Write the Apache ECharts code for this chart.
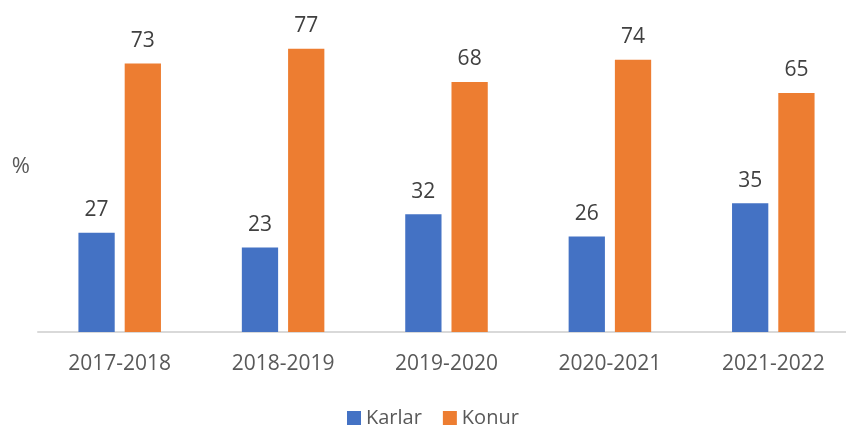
<!DOCTYPE html>
<html>
<head>
<meta charset="utf-8">
<script src="https://cdn.jsdelivr.net/npm/echarts@6/dist/echarts.min.js"></script>
<style>
  html, body { margin: 0; padding: 0; background: #ffffff; overflow: hidden; }
  /* plot area runs a little past the right edge of the window */
  #chart { width: 855px; height: 426px; }
</style>
</head>
<body>
<div id="chart"></div>
<script>
// School years and share (%) of women and men
const years = ['2017-2018', '2018-2019', '2019-2020', '2020-2021', '2021-2022'];
const karlar = [27, 23, 32, 26, 35];
const konur = [73, 77, 68, 74, 65];
const seriesNames = ['Karlar', 'Konur'];
const unitLabel = '%';

const FONT = '"Open Sans", "Noto Sans", sans-serif';

const chart = echarts.init(document.getElementById('chart'), null, { renderer: 'canvas' });

const valueLabel = {
  show: true,
  position: 'top',
  distance: 12,
  color: '#404040',
  fontFamily: FONT,
  fontSize: 21
};

chart.setOption({
  animation: false,
  backgroundColor: '#ffffff',
  grid: { left: 38, top: 1, right: 0, bottom: 94, containLabel: false },
  legend: {
    data: seriesNames,
    left: 342,
    top: 403,
    icon: 'rect',
    itemWidth: 14,
    itemHeight: 14,
    itemGap: 21,
    textStyle: { color: '#595959', fontFamily: FONT, fontSize: 20 }
  },
  xAxis: {
    type: 'category',
    data: years,
    axisLine: { show: true, lineStyle: { color: '#d9d9d9', width: 2 } },
    axisTick: { show: false },
    axisLabel: { color: '#595959', fontFamily: FONT, fontSize: 21, margin: 22 }
  },
  yAxis: {
    type: 'value',
    min: 0,
    max: 90,
    name: unitLabel,
    nameLocation: 'middle',
    nameRotate: 0,
    nameGap: 8,
    nameTextStyle: { color: '#595959', fontFamily: FONT, fontSize: 22 },
    axisLine: { show: false },
    axisTick: { show: false },
    axisLabel: { show: false },
    splitLine: { show: false }
  },
  series: [
    {
      name: seriesNames[0],
      type: 'bar',
      data: karlar,
      barWidth: '22.2%',
      barGap: '27.5%',
      itemStyle: { color: '#4472C4' },
      label: valueLabel
    },
    {
      name: seriesNames[1],
      type: 'bar',
      data: konur,
      barWidth: '22.2%',
      barGap: '27.5%',
      itemStyle: { color: '#ED7D31' },
      label: valueLabel
    }
  ]
});
</script>
</body>
</html>
